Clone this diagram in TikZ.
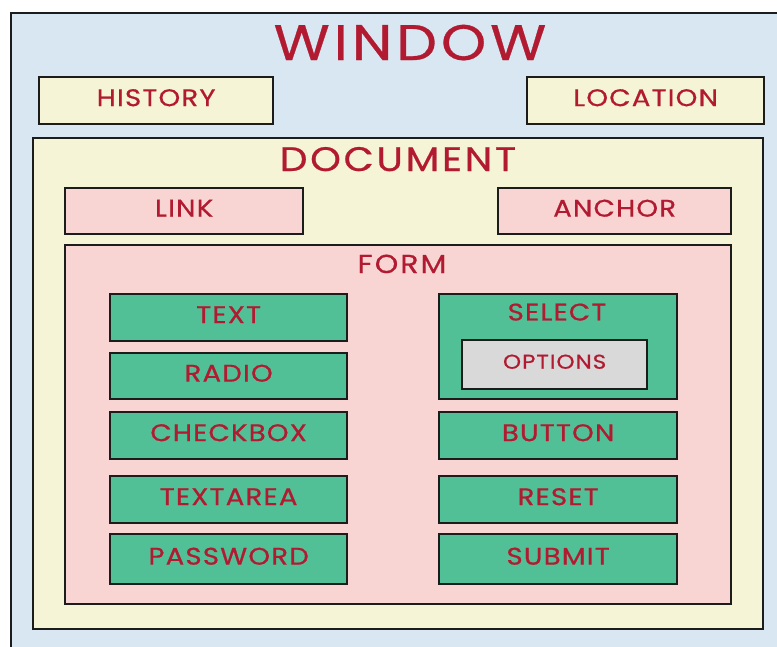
\documentclass[tikz,border=0pt]{standalone}
\usepackage{fontspec}
\setmainfont{Poppins}
\newfontfamily\boxfont{Poppins}[FakeStretch=1.15, LetterSpace=5, FakeBold=0.7]
\newfontfamily\ttlfont{Poppins}[FakeStretch=1.15, LetterSpace=8, FakeBold=0.6]
\usetikzlibrary{positioning}
\definecolor{winblue}{HTML}{D8E7F2}
\definecolor{docyellow}{HTML}{F6F4D6}
\definecolor{formpink}{HTML}{F8D5D3}
\definecolor{elgreen}{HTML}{52C096}
\definecolor{optgrey}{HTML}{D9D9D9}
\definecolor{labred}{HTML}{B11A30}
\definecolor{edge}{HTML}{1C1C1C}

\tikzset{
  frame/.style={draw=edge, line width=2.3pt, rectangle, anchor=north west, inner sep=0pt},
  lbl/.style={text=labred, font=\boxfont\fontsize{24}{24}\selectfont, text depth=6pt},
  ttl/.style={text=labred, anchor=base, inner sep=0pt},
}

\begin{document}
\begin{tikzpicture}[x=1pt, y=-1pt]
  \clip (0, 0) rectangle (777, 646);
  \fill[white] (0, 0) rectangle (777, 646);

  % window level
  \node[frame, fill=winblue, minimum width=790, minimum height=650] (window) at (10, 12) {};
  \node[ttl, font=\ttlfont\fontsize{50}{50}\selectfont] (wintitle) at (410, 60) {WINDOW};
  \node[frame, fill=docyellow, minimum width=234, minimum height=47, lbl] (history) at (38, 76) {HISTORY};
  \node[frame, fill=docyellow, minimum width=237, minimum height=47, lbl] (location) at (526, 76) {LOCATION};

  % document level
  \node[frame, fill=docyellow, minimum width=730, minimum height=491] (document) at (32, 137) {};
  \node[ttl, font=\ttlfont\fontsize{34}{34}\selectfont] (doctitle) at (398, 171) {DOCUMENT};
  \node[frame, fill=formpink, minimum width=238, minimum height=46, lbl] (link) at (64, 187) {LINK};
  \node[frame, fill=formpink, minimum width=233, minimum height=46, lbl] (anchor) at (497, 187) {ANCHOR};

  % form level
  \node[frame, fill=formpink, minimum width=666, minimum height=359] (form) at (64, 244) {};
  \node[ttl, font=\ttlfont\fontsize{26}{26}\selectfont] (formtitle) at (402, 273) {FORM};

  \node[frame, fill=elgreen, minimum width=237, minimum height=47, lbl] (text) at (109, 293) {TEXT};
  \node[frame, fill=elgreen, minimum width=237, minimum height=46, lbl] (radio) at (109, 352) {RADIO};
  \node[frame, fill=elgreen, minimum width=237, minimum height=47, lbl] (checkbox) at (109, 411) {CHECKBOX};
  \node[frame, fill=elgreen, minimum width=237, minimum height=47, lbl] (textarea) at (109, 475) {TEXTAREA};
  \node[frame, fill=elgreen, minimum width=237, minimum height=50, lbl] (password) at (109, 533) {PASSWORD};

  \node[frame, fill=elgreen, minimum width=238, minimum height=105] (select) at (438, 293) {};
  \node[lbl, text depth=0pt] (selectlbl) at (557, 312) {SELECT};
  \node[frame, fill=optgrey, minimum width=185, minimum height=49, lbl, font=\boxfont\fontsize{20}{20}\selectfont] (options) at (461, 339) {OPTIONS};
  \node[frame, fill=elgreen, minimum width=238, minimum height=47, lbl] (button) at (438, 411) {BUTTON};
  \node[frame, fill=elgreen, minimum width=238, minimum height=47, lbl] (reset) at (438, 475) {RESET};
  \node[frame, fill=elgreen, minimum width=238, minimum height=50, lbl] (submit) at (438, 533) {SUBMIT};
\end{tikzpicture}
\end{document}
